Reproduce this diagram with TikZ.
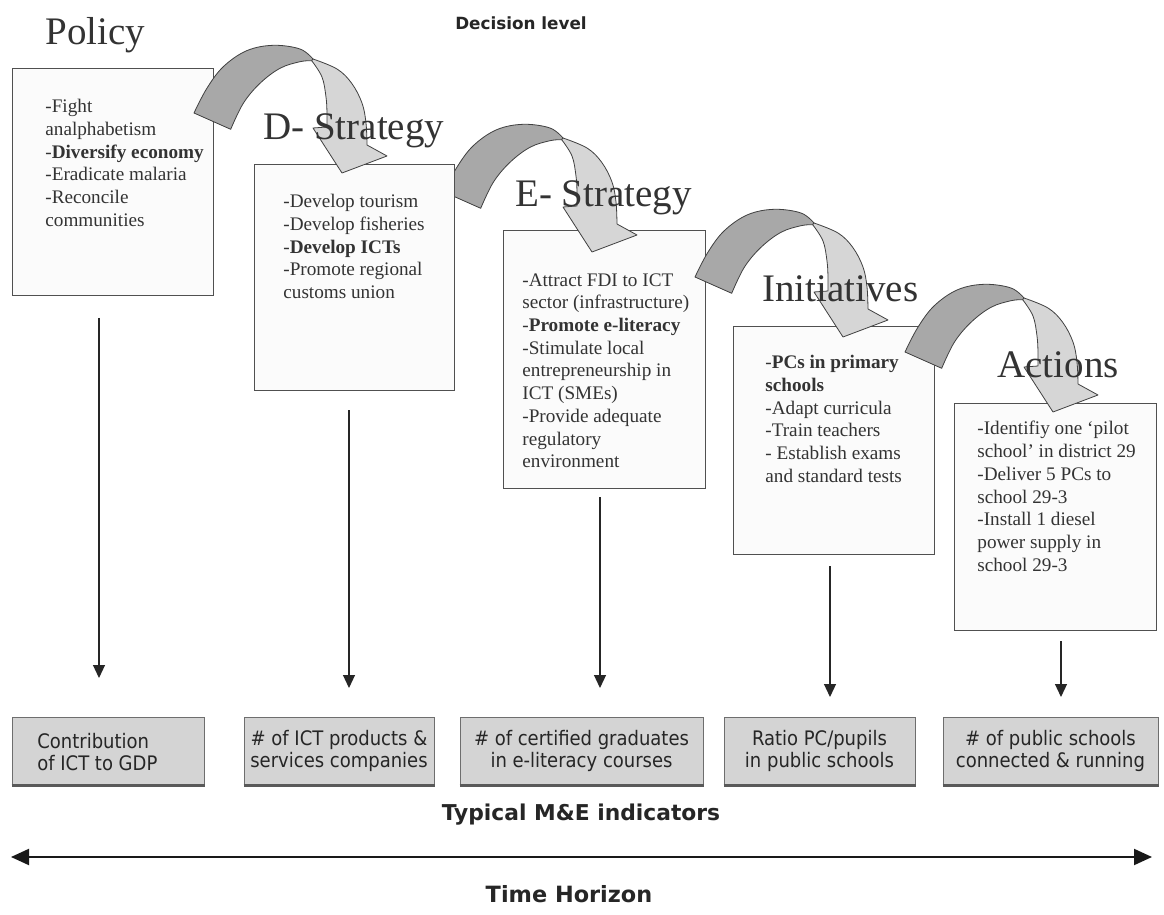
\documentclass[tikz,border=0pt]{standalone}
\usepackage{fontspec}
\setmainfont{Liberation Serif}
\newfontfamily\condsans{DejaVu Sans Condensed}[BoldFont={DejaVu Sans Condensed Bold}]
\newfontfamily\headsans{DejaVu Sans}[BoldFont={DejaVu Sans Bold}]
\usetikzlibrary{arrows.meta,fit}
\definecolor{boxline}{HTML}{505050}
\definecolor{boxfill}{HTML}{FBFBFB}
\definecolor{darkband}{HTML}{A8A8A8}
\definecolor{lightband}{HTML}{D6D6D6}
\definecolor{indfill}{HTML}{D4D4D4}
\definecolor{indline}{HTML}{6E6E6E}
\definecolor{txt}{HTML}{333333}
\tikzset{
  carrow/.pic={
    \draw[draw=black!75, line width=0.4pt, fill=darkband, line join=round]
      plot[smooth, tension=0.6] coordinates {(0,0) (12.7,-24.4) (29.3,-46.3) (52.7,-62.3) (79.3,-67.7) (106,-64) (119,-54)}
      -- plot[smooth, tension=0.6] coordinates {(117.7,-52.3) (106,-51.3) (86,-44.7) (66,-29.7) (49.3,-9.7) (36.7,16.3)}
      -- cycle;
    \draw[draw=black!75, line width=0.4pt, fill=lightband, line join=round]
      plot[smooth, tension=0.6] coordinates {(119,-54) (143,-44) (157.7,-29.7) (168,-10) (172,10) (173,32)}
      -- (193,43) -- (148,60) -- (119,15) -- (133,14)
      -- plot[smooth, tension=0.6] coordinates {(133,14) (133,0) (132,-16) (128,-36) (117.7,-52.3)}
      -- cycle;
  }
}
\begin{document}
\begin{tikzpicture}[x=0.5pt,y=-0.5pt,
  box/.style={draw=boxline, fill=boxfill, line width=0.5pt, inner sep=0pt},
  indbox/.style={draw=indline, fill=indfill, line width=0.5pt, inner sep=0pt},
  title/.style={anchor=base west, inner sep=0pt, font=\fontsize{19.5}{22}\selectfont, text=txt},
  body/.style={anchor=north west, inner sep=0pt, align=left, font=\fontsize{9.6}{11.35}\selectfont, text=txt},
  indtext/.style={inner sep=0pt, align=center, font=\condsans\fontsize{10}{10.8}\selectfont, text=black!85},
  heading/.style={inner sep=0pt, anchor=base, font=\headsans\bfseries\fontsize{10.9}{12}\selectfont, text=black!85},
  varrow/.style={draw=black!85, line width=0.6pt, -{Triangle[width=6pt,length=6.5pt]}},
  shadowline/.style={draw=black!65, line width=1.2pt}
]
\useasboundingbox (0,0) rectangle (1164,915);
\fill[white] (0,0) rectangle (1164,915);

% boxes and curved arrows (stacking order as in the reference)
\node[box, fit={(12,69) (213,296)}] (policy) {};
\node[box, fit={(503,231) (705,488)}] (estrat) {};
\pic at (444,192) {carrow};
\node[box, fit={(254,165) (454,390)}] (dstrat) {};
\pic at (194,113) {carrow};
\node[box, fit={(733,327) (934,554)}] (init) {};
\node[box, fit={(954,403) (1156,630)}] (actions) {};
\pic at (695,277) {carrow};
\pic at (905,352) {carrow};

% titles
\node[heading, font=\headsans\bfseries\fontsize{8.4}{10}\selectfont] (declevel) at (521,30) {Decision level};
\node[title] (tpolicy) at (45,45) {Policy};
\node[title] (tdstrat) at (263,140) {D- Strategy};
\node[title] (testrat) at (515,207) {E- Strategy};
\node[title] (tinit) at (762,301) {Initiatives};
\node[title] (tactions) at (997,378) {Actions};

% box texts
\node[body] (xpolicy) at (45,99) {-Fight\\analphabetism\\-\textbf{Diversify economy}\\-Eradicate malaria\\-Reconcile\\communities};
\node[body] (xdstrat) at (283,194) {-Develop tourism\\-Develop fisheries\\-\textbf{Develop ICTs}\\-Promote regional\\customs union};
\node[body] (xestrat) at (522,273) {-Attract FDI to ICT\\sector (infrastructure)\\-\textbf{Promote e-literacy}\\-Stimulate local\\entrepreneurship in\\ICT (SMEs)\\-Provide adequate\\regulatory\\environment};
\node[body] (xinit) at (765,355) {-\textbf{PCs in primary}\\\textbf{schools}\\-Adapt curricula\\-Train teachers\\- Establish exams\\and standard tests};
\node[body] (xactions) at (977,421) {-Identifiy one ‘pilot\\school’ in district 29\\-Deliver 5 PCs to\\school 29-3\\-Install 1 diesel\\power supply in\\school 29-3};

% indicator boxes
\node[indbox, fit={(12,717) (204,785)}] (ind1) {};
\node[indbox, fit={(244,717) (434,785)}] (ind2) {};
\node[indbox, fit={(460,717) (703,785)}] (ind3) {};
\node[indbox, fit={(724,717) (915,785)}] (ind4) {};
\node[indbox, fit={(943,717) (1158,785)}] (ind5) {};
\foreach \b in {ind1,ind2,ind3,ind4,ind5}{
  \draw[shadowline] (\b.south west) -- (\b.south east);
}
\node[indtext, align=left, anchor=west] (lab1) at (37,752) {Contribution\\of ICT to GDP};
\node[indtext] (lab2) at (ind2.center) {\# of ICT products \&\\services companies};
\node[indtext] (lab3) at (ind3.center) {\# of certified graduates\\in e-literacy courses};
\node[indtext] (lab4) at (ind4.center) {Ratio PC/pupils\\in public schools};
\node[indtext] (lab5) at (ind5.center) {\# of public schools\\connected \& running};

% vertical arrows
\coordinate (a1s) at (99,318);  \coordinate (a1e) at (99,678);
\coordinate (a2s) at (349,410); \coordinate (a2e) at (349,688);
\coordinate (a3s) at (600,497); \coordinate (a3e) at (600,688);
\coordinate (a4s) at (830,566); \coordinate (a4e) at (830,697);
\coordinate (a5s) at (1061,641); \coordinate (a5e) at (1061,697);
\draw[varrow] (a1s) -- (a1e);
\draw[varrow] (a2s) -- (a2e);
\draw[varrow] (a3s) -- (a3e);
\draw[varrow] (a4s) -- (a4e);
\draw[varrow] (a5s) -- (a5e);

% bottom labels and time axis
\node[heading] (me) at (581,820) {Typical M\&E indicators};
\coordinate (tl) at (11,857);
\coordinate (tr) at (1152,857);
\draw[draw=black!90, line width=1pt, {Triangle[width=8pt,length=9pt]}-{Triangle[width=8pt,length=9pt]}] (tl) -- (tr);
\node[heading, font=\headsans\bfseries\fontsize{11.2}{12}\selectfont] (th) at (569,902) {Time Horizon};
\end{tikzpicture}
\end{document}
